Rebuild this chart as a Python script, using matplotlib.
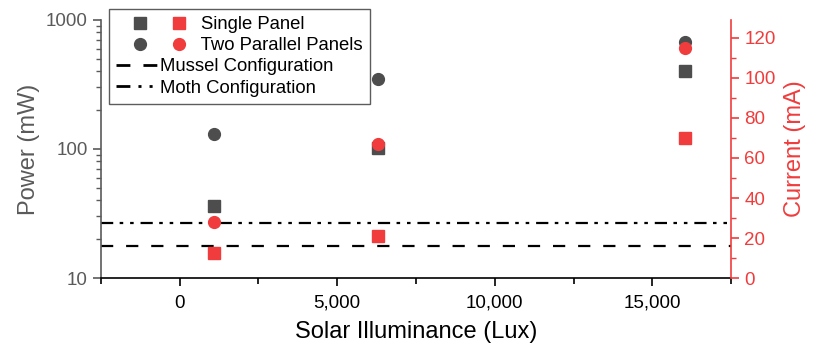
import matplotlib.pyplot as plt
from matplotlib.lines import Line2D
from matplotlib.legend_handler import HandlerBase
from matplotlib.ticker import FuncFormatter, MultipleLocator, LogLocator, NullFormatter

plt.rcParams['font.family'] = ['Liberation Sans', 'DejaVu Sans']

# data
lux = [1100, 6300, 16050]
power_single = [36, 101, 404]        # mW
power_two = [131, 349, 679]          # mW
current_single = [12.5, 21, 70]      # mA
current_two = [28, 67, 115]          # mA
mussel_power = 17.7                  # mW
moth_power = 26.5                    # mW

grey = '#4d4d4d'
axgrey = '#5a5a5a'
red = '#f03c3c'
dash_mussel = (5.5, 5.8)
dash_moth = (5.5, 2.9, 1.6, 3.1, 1.6, 3.1)


class PairHandler(HandlerBase):
    # grey marker inside the handle box, red one sticking out to the right
    def create_artists(self, legend, orig_handle, xdescent, ydescent,
                       width, height, fontsize, trans):
        arts = []
        for h, fx in zip(orig_handle, (0.59, 1.54)):
            ln = Line2D([fx * width - xdescent], [height / 2 - ydescent],
                        marker=h.get_marker(), color=h.get_color(),
                        ms=h.get_markersize(), ls='none', transform=trans)
            arts.append(ln)
        return arts


fig = plt.figure(figsize=(8.13, 3.56), dpi=100)
ax = fig.add_axes([0.1242, 0.219, 0.775, 0.725])
ax2 = ax.twinx()

ax.set_yscale('log')
ax.set_ylim(10, 1000)
ax.set_xlim(-2500, 17500)
ax2.set_ylim(0, 129)

ax.plot(lux, power_single, 's', color=grey, ms=8, ls='none', zorder=3)
ax.plot(lux, power_two, 'o', color=grey, ms=8.5, ls='none', zorder=3)
ax2.plot(lux, current_single, 's', color=red, ms=8, ls='none', zorder=4)
ax2.plot(lux, current_two, 'o', color=red, ms=8.5, ls='none', zorder=4)

ax.axhline(mussel_power, color='black', lw=1.6, dashes=dash_mussel)
ax.axhline(moth_power, color='black', lw=1.6, dashes=dash_moth)

# axes styling
ax.spines['top'].set_visible(False)
ax2.spines['top'].set_visible(False)
ax.spines['left'].set_color(axgrey)
ax2.spines['left'].set_visible(False)
ax2.spines['bottom'].set_visible(False)
ax.spines['right'].set_visible(False)
ax2.spines['right'].set_color(red)
for sp in (ax.spines['bottom'], ax.spines['left'], ax2.spines['right']):
    sp.set_linewidth(1.2)

ax.xaxis.set_major_locator(MultipleLocator(5000))
ax.xaxis.set_minor_locator(MultipleLocator(2500))
ax.xaxis.set_major_formatter(FuncFormatter(lambda v, p: f'{int(v):,}'))
ax.yaxis.set_major_locator(LogLocator(base=10, numticks=5))
ax.yaxis.set_minor_locator(LogLocator(base=10, subs=range(2, 10), numticks=10))
ax.yaxis.set_minor_formatter(NullFormatter())
ax.yaxis.set_major_formatter(FuncFormatter(lambda v, p: f'{int(round(v))}'))
ax2.yaxis.set_major_locator(MultipleLocator(20))
ax2.yaxis.set_minor_locator(MultipleLocator(10))

ax.tick_params(axis='x', which='major', length=6, width=1.2, labelsize=13.5, colors='black', pad=6)
ax.tick_params(axis='x', which='minor', length=4, width=1.2)
ax.tick_params(axis='y', which='major', length=6, width=1.2, labelsize=13.5, colors=axgrey)
ax.tick_params(axis='y', which='minor', length=3.5, width=1, colors=axgrey)
ax2.tick_params(axis='y', which='major', length=6, width=1.2, labelsize=13.5, colors=red)
ax2.tick_params(axis='y', which='minor', length=3.5, width=1, colors=red)

ax.set_xlabel('Solar Illuminance (Lux)', fontsize=17, labelpad=7)
ax.set_ylabel('Power (mW)', fontsize=17, color=axgrey, labelpad=4)
ax2.set_ylabel('Current (mA)', fontsize=17, color=red, labelpad=6)

# legend
h_single = (Line2D([], [], marker='s', color=grey, ls='none', ms=8),
            Line2D([], [], marker='s', color=red, ls='none', ms=8))
h_two = (Line2D([], [], marker='o', color=grey, ls='none', ms=8.5),
         Line2D([], [], marker='o', color=red, ls='none', ms=8.5))
h_mussel = Line2D([], [], color='black', lw=2, dashes=(5, 4.7))
h_moth = Line2D([], [], color='black', lw=2, dashes=(5, 2.9, 1.1, 2.9, 1.1, 2.9))
leg = ax2.legend([h_single, h_two, h_mussel, h_moth],
                 ['        Single Panel', '        Two Parallel Panels',
                  'Mussel Configuration', 'Moth Configuration'],
                 handler_map={tuple: PairHandler()},
                 loc='upper left', bbox_to_anchor=(0.0127, 1.0426), fontsize=13.3,
                 handlelength=2.2, handletextpad=0.15, labelspacing=0.22,
                 borderpad=0.4, borderaxespad=0, frameon=True, fancybox=False)
leg.get_frame().set_edgecolor('#333333')
leg.get_frame().set_linewidth(1)

fig.savefig('out.png', dpi=100)
